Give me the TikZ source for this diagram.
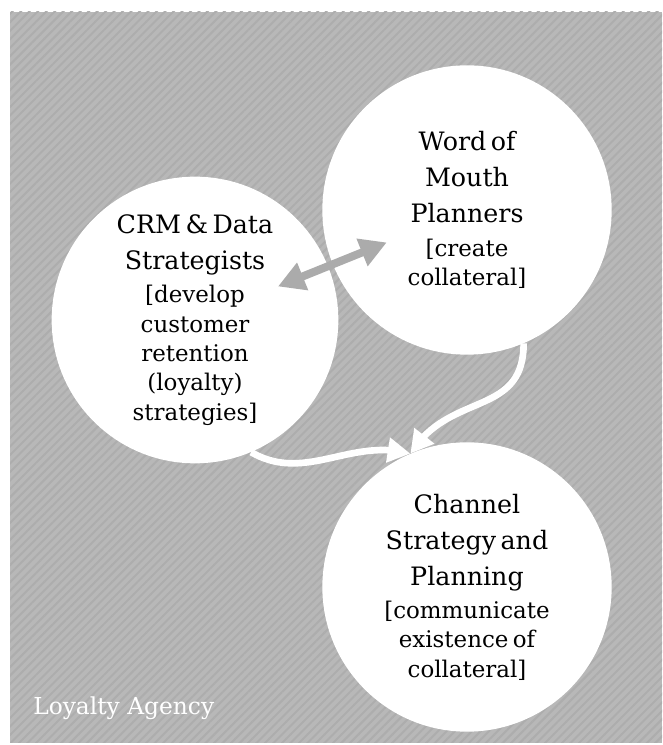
\documentclass[tikz,border=0pt]{standalone}
\usepackage{fontspec}
\setmainfont{DejaVu Serif}
\usetikzlibrary{arrows.meta,calc,patterns.meta,bending}
\definecolor{bggray}{HTML}{B8B8B8}
\definecolor{stripegray}{HTML}{ADADAD}
\definecolor{arrowgray}{HTML}{ABABAB}
\newcommand\ttlfont{\fontsize{19}{27}\selectfont}
\newcommand\bdyfont{\fontsize{17.2}{22}\selectfont}

\begin{document}
\begin{tikzpicture}[x=0.75pt, y=0.75pt,
  bubble/.style = {circle, fill=white, inner sep=0pt, minimum size=217pt, text width=136pt, align=center},
  pairarrow/.style = {draw=arrowgray, line width=6pt, {Triangle[length=20pt,width=21pt]}-{Triangle[length=20pt,width=21pt]}},
  flowarrow/.style = {draw=white, line width=5pt, -{Triangle[length=17pt,width=18pt]}}]
\useasboundingbox (0,0) rectangle (662,745);
\fill[bggray] (10,2) rectangle (662,733);
\fill[pattern={Lines[angle=45,distance=4.5pt,line width=1.5pt]}, pattern color=stripegray] (10,2) rectangle (662,733);

\node[bubble, minimum size=215pt] (crm) at (195,425) {\ttlfont CRM \& Data\\Strategists\par\vspace{3pt}\bdyfont {[}develop\\customer\\retention\\(loyalty)\\strategies{]}\par};
\node[bubble] (wom) at (467,535) {\ttlfont Word of\\Mouth\\Planners\par\vspace{3pt}\bdyfont {[}create\\collateral{]}\par};
\node[bubble] (chan) at (467,158) {\ttlfont Channel\\Strategy and\\Planning\par\vspace{3pt}\bdyfont {[}communicate\\existence of\\collateral{]}\par};
\node[anchor=base west, inner sep=0pt, text=white, font=\fontsize{17.5}{20}\selectfont] (agency) at (33,31) {Loyalty Agency};

\draw[pairarrow] ($(crm.center)!0.305!(wom.center)$) -- ($(crm.center)!0.705!(wom.center)$);
\draw[flowarrow] (crm.-67) to[out=-30, in=165] (chan.113);
\draw[flowarrow] (wom.-67) to[out=-90, in=58, looseness=1.2] (chan.113);
\end{tikzpicture}
\end{document}
